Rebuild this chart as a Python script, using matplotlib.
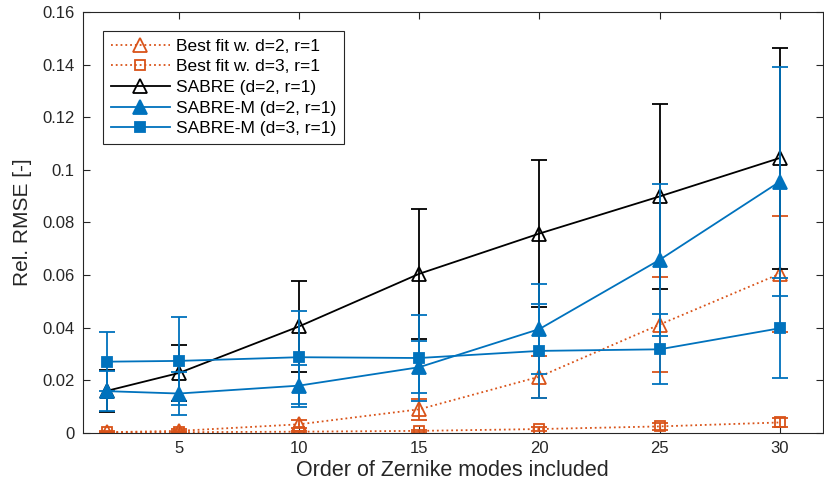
import matplotlib
matplotlib.use("Agg")
import numpy as np
from matplotlib import pyplot as plt

# Zernike orders on the x axis
orders = [2, 5, 10, 15, 20, 25, 30]

# relative RMSE means and error bar half-widths
fit_d2 = [0.0003, 0.0008, 0.0033, 0.0090, 0.0214, 0.0412, 0.0605]
fit_d2_err = [0.0003, 0.0006, 0.0015, 0.0040, 0.0080, 0.0180, 0.0220]
fit_d3 = [0.0002, 0.0003, 0.0005, 0.0008, 0.0015, 0.0025, 0.0040]
fit_d3_err = [0.0002, 0.0003, 0.0004, 0.0005, 0.0008, 0.0012, 0.0018]
sabre = [0.0160, 0.0228, 0.0405, 0.0605, 0.0758, 0.0899, 0.1045]
sabre_err = [0.0080, 0.0106, 0.0174, 0.0247, 0.0278, 0.0352, 0.0420]
sabre_m2 = [0.0159, 0.0150, 0.0180, 0.0250, 0.0395, 0.0658, 0.0955]
sabre_m2_err = [0.0077, 0.0080, 0.0080, 0.0098, 0.0172, 0.0290, 0.0435]
sabre_m3 = [0.0271, 0.0274, 0.0288, 0.0285, 0.0312, 0.0318, 0.0398]
sabre_m3_err = [0.0112, 0.0168, 0.0176, 0.0163, 0.0178, 0.0133, 0.0190]

labels = ["Best fit w. d=2, r=1", "Best fit w. d=3, r=1", "SABRE (d=2, r=1)",
          "SABRE-M (d=2, r=1)", "SABRE-M (d=3, r=1)"]

blue = "#0072BD"
orange = "#D95319"
axcol = "#262626"

plt.rcParams["font.family"] = ["Liberation Sans", "DejaVu Sans"]

fig = plt.figure(figsize=(8.24, 4.94), dpi=100)
ax = fig.add_axes([0.1004, 0.1235, 0.8984, 0.8522])

series = [
    (fit_d2, fit_d2_err, orange, ":", "^", "none", 10),
    (fit_d3, fit_d3_err, orange, ":", "s", "none", 7),
    (sabre, sabre_err, "black", "-", "^", "none", 10),
    (sabre_m2, sabre_m2_err, blue, "-", "^", blue, 10),
    (sabre_m3, sabre_m3_err, blue, "-", "s", blue, 7.5),
]

for (y, e, c, ls, m, fc, ms), lab in zip(series, labels):
    ax.errorbar(orders, y, yerr=e, fmt="none", ecolor=c, elinewidth=1.3,
                capsize=6, capthick=1.3)
    ax.plot(orders, y, color=c, linestyle=ls, linewidth=1.3, marker=m,
            markersize=ms, markerfacecolor=fc, markeredgecolor=c,
            markeredgewidth=1.3, label=lab)

ax.set_xlim(1, 31.8)
ax.set_ylim(0, 0.16)
ax.set_xticks([5, 10, 15, 20, 25, 30])
ax.set_yticks(np.arange(0, 0.161, 0.02))
ax.set_yticklabels(["0", "0.02", "0.04", "0.06", "0.08", "0.1", "0.12", "0.14", "0.16"])

ax.tick_params(direction="in", length=5, width=0.8, colors=axcol,
               labelsize=12, top=True, right=True, pad=6)
for s in ax.spines.values():
    s.set_color(axcol)
    s.set_linewidth(0.8)

ax.set_xlabel("Order of Zernike modes included", fontsize=15.5, color=axcol, labelpad=3)
ax.set_ylabel("Rel. RMSE [-]", fontsize=15, color=axcol, labelpad=7)

leg = ax.legend(loc="upper left", bbox_to_anchor=(0.0274, 0.9556), borderaxespad=0,
                fontsize=12.5, handlelength=3.4, labelspacing=0.32, handletextpad=0.35,
                fancybox=False, framealpha=1, edgecolor=axcol, borderpad=0.45)
leg.get_frame().set_linewidth(0.8)

fig.savefig("out.png", dpi=100)
